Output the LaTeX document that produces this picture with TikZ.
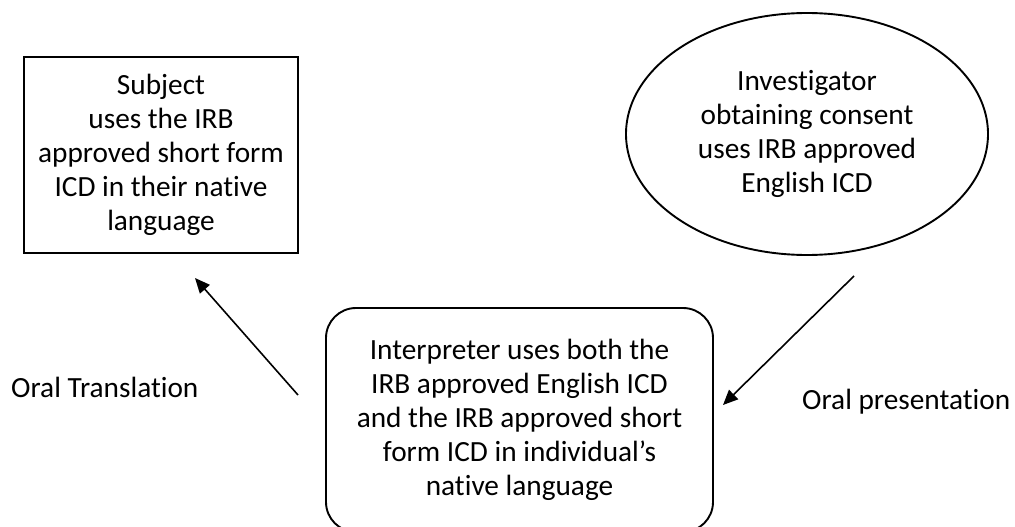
\documentclass[tikz,border=0pt]{standalone}
\usepackage{fontspec}
\setmainfont{Carlito}[Ligatures=NoCommon]
\usetikzlibrary{shapes.geometric,arrows.meta}
\begin{document}
\begin{tikzpicture}[x=1pt,y=-1pt,
  every node/.style={font=\fontsize{29.3}{34}\selectfont, align=center, inner sep=0pt},
  shape line/.style={draw=black, line width=1.9pt},
  flow/.style={line width=1.6pt, -{Triangle[length=15pt,width=13pt]}}]
  \clip (0,0) rectangle (1015,527);
  \fill[white] (0,0) rectangle (1015,527);

  % the three parties
  \node[shape line, rectangle, minimum width=274pt, minimum height=196pt]
    (subject) at (161,155) {Subject\\ uses the IRB\\approved short form\\ICD in their native\\language};
  \node[shape line, ellipse, minimum width=362pt, minimum height=242pt]
    (investigator) at (807,134) {Investigator\\obtaining consent\\uses IRB approved\\English ICD};
  \node[shape line, rectangle, rounded corners=30pt, minimum width=387pt, minimum height=224pt]
    (interpreter) at (519.5,420) {Interpreter uses both the\\IRB approved English ICD\\and the IRB approved short\\form ICD in individual’s\\native language};

  % free-standing arrow ends
  \coordinate (transStart) at (298,395);
  \coordinate (transEnd)   at (195,278);
  \coordinate (presStart)  at (854,276);
  \coordinate (presEnd)    at (723,405);

  \draw[flow] (transStart) -- (transEnd);
  \draw[flow] (presStart) -- (presEnd);

  \node[anchor=base west] (translation)  at (11,397)  {Oral Translation};
  \node[anchor=base west] (presentation) at (802,409) {Oral presentation};
\end{tikzpicture}
\end{document}
